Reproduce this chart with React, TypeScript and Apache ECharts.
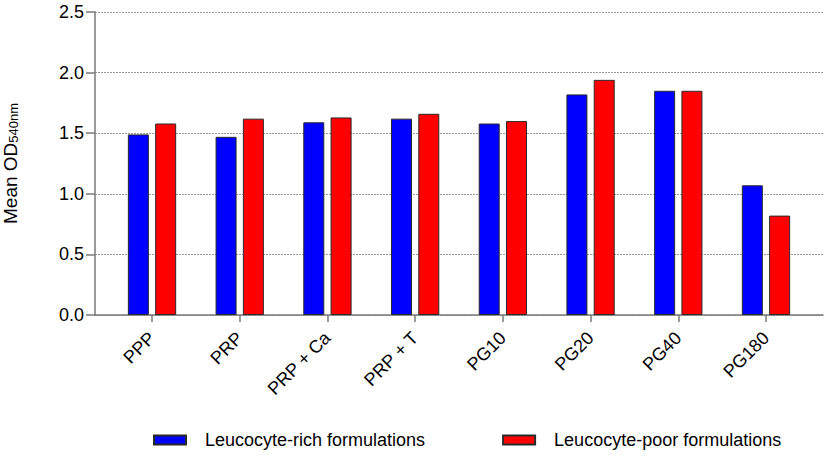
import React, { useEffect, useRef } from "react";
import * as echarts from "echarts";

const categories = ["PPP", "PRP", "PRP + Ca", "PRP + T", "PG10", "PG20", "PG40", "PG180"];
const richValues = [1.49, 1.47, 1.59, 1.62, 1.58, 1.82, 1.85, 1.07];
const poorValues = [1.58, 1.62, 1.63, 1.66, 1.60, 1.94, 1.85, 0.82];
const yTicks = [0, 0.5, 1.0, 1.5, 2.0, 2.5];
const seriesNames = ["Leucocyte-rich formulations", "Leucocyte-poor formulations"];

const FONT = "'Liberation Sans', Arial, sans-serif";

export default function App() {
  const ref = useRef<HTMLDivElement>(null);
  useEffect(() => {
    document.body.style.margin = "0";
    const chart = echarts.init(ref.current!, null, { renderer: "svg" });
    const idx = categories.map((_, i) => i);
    chart.setOption({
      animation: false,
      backgroundColor: "#ffffff",
      textStyle: { fontFamily: FONT },
      grid: { left: 95, right: 6, top: 12, bottom: 141, containLabel: false, outerBoundsMode: "none" },
      legend: {
        left: 153,
        top: 431,
        padding: 0,
        itemWidth: 32,
        itemHeight: 9,
        itemGap: 77,
        icon: "rect",
        textStyle: { fontSize: 18, color: "#000", fontFamily: FONT, padding: [0, 0, 0, 14] },
        data: seriesNames,
      },
      xAxis: {
        type: "value",
        min: -0.65,
        max: 7.65,
        splitLine: { show: false },
        axisLine: { show: true, onZero: false, lineStyle: { color: "#7a7a7a", width: 1.5 } },
        axisTick: { show: true, length: 7, customValues: idx, lineStyle: { color: "#7a7a7a", width: 1.5 } },
        axisLabel: {
          customValues: idx,
          rotate: 45,
          fontSize: 18,
          color: "#000",
          fontFamily: FONT,
          margin: 20,
          formatter: (v: number) => categories[Math.round(v)] ?? "",
        },
      },
      yAxis: {
        type: "value",
        min: 0,
        max: 2.5,
        interval: 0.5,
        name: "{a|Mean OD}{b|540nm}",
        nameLocation: "middle",
        nameGap: 75,
        nameRotate: 90,
        nameTextStyle: {
          rich: {
            a: { fontSize: 19, fontFamily: FONT, color: "#000", lineHeight: 24, verticalAlign: "bottom" },
            b: { fontSize: 13, fontFamily: FONT, color: "#000", lineHeight: 24, verticalAlign: "bottom", padding: [7, 0, 0, 0] },
          },
        },
        axisLine: { show: true, onZero: false, lineStyle: { color: "#7a7a7a", width: 1.5 } },
        axisTick: { show: true, length: 9, lineStyle: { color: "#7a7a7a", width: 1.5 } },
        axisLabel: {
          fontSize: 18,
          color: "#000",
          fontFamily: FONT,
          margin: 11,
          formatter: (v: number) => (yTicks.includes(v) ? v.toFixed(1) : ""),
        },
        splitLine: { show: true, lineStyle: { color: "#9a9a9a", width: 1, type: [2, 1] } },
      },
      series: [
        {
          name: seriesNames[0],
          type: "bar",
          barWidth: 21,
          barGap: "30%",
          itemStyle: { color: "#0000ff", borderColor: "#2a2a2a", borderWidth: 1 },
          data: richValues.map((v, i) => [i, v]),
        },
        {
          name: seriesNames[1],
          type: "bar",
          barWidth: 21,
          barGap: "30%",
          itemStyle: { color: "#ff0000", borderColor: "#2a2a2a", borderWidth: 1 },
          data: poorValues.map((v, i) => [i, v]),
        },
      ],
    });
    return () => chart.dispose();
  }, []);
  return <div ref={ref} style={{ width: 829, height: 456 }} />;
}
